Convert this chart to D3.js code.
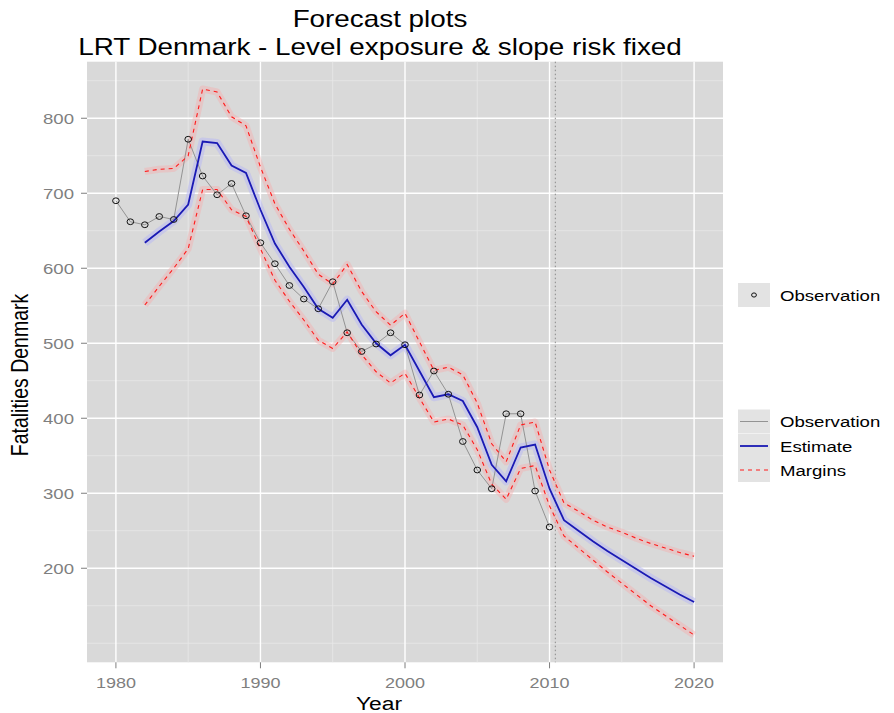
<!DOCTYPE html>
<html><head><meta charset="utf-8">
<script src="https://cdn.jsdelivr.net/npm/d3@7"></script>
<style>body{margin:0;background:#fff} svg{display:block}</style>
</head><body><svg id="c" width="894" height="713"></svg>
<script>
// ---------------- data ----------------
const obsYears = [1980,1981,1982,1983,1984,1985,1986,1987,1988,1989,1990,1991,1992,1993,1994,1995,1996,1997,1998,1999,2000,2001,2002,2003,2004,2005,2006,2007,2008,2009,2010];
const obsValues = [690,662,658,669,665,772,723,698,713,670,634,606,577,559,546,582,514,489,499,514,498,431,463,432,369,331,306,406,406,303,255];
const estYears = [1982,1983,1984,1985,1986,1987,1988,1989,1990,1991,1992,1993,1994,1995,1996,1997,1998,1999,2000,2001,2002,2003,2004,2005,2006,2007,2008,2009,2010,2011,2012,2013,2014,2015,2016,2017,2018,2019,2020];
const estValues = [634,649,663,685,769,767,737,727,678,633,602,575,546,534,558,525,500,484,498,463,428,432,423,388,338,316,361,365,306,264,250,236,223,211,199,187,176,165,155];
const upperValues = [729,732,733,750,839,835,802,790,735,686,652,623,592,579,605,569,542,524,540,502,464,468,458,420,366,342,391,395,331,287,276,264,255,248,240,233,227,221,216];
const lowerValues = [551,576,600,626,705,705,678,669,626,584,556,531,504,493,515,485,462,447,460,427,395,399,391,358,312,292,333,337,283,243,227,211,195,180,165,150,137,124,111];
const forecastStart = 2010.4;
const xTicks = [1980,1990,2000,2010,2020];
const xMinor = [1985,1995,2005,2015];
const yTicks = [200,300,400,500,600,700,800];
const yMinor = [100,150,250,350,450,550,650,750,850];
const titleLines = ["Forecast plots","LRT Denmark - Level exposure & slope risk fixed"];
const xTitle = "Year", yTitle = "Fatalities Denmark";
const legend1 = ["Observation"];
const legend2 = ["Observation","Estimate","Margins"];

// ---------------- layout ----------------
const svg = d3.select("#c");
const P = {l:87, r:723, t:61.7, b:662.3};
const SX = 1.2; // horizontal stretch seen in the reference text
const FONT = "'Liberation Sans', Arial, Helvetica, sans-serif";

const allY = upperValues.concat(lowerValues, obsValues);
const yMin = d3.min(allY), yMax = d3.max(allY), yr = yMax - yMin;
const x = d3.scaleLinear().domain([1978, 2022]).range([P.l, P.r]);
const y = d3.scaleLinear().domain([yMin - 0.05*yr, yMax + 0.05*yr]).range([P.b, P.t]);

function stext(g, tx, ty, str, opts) {
  return g.append("text")
    .attr("transform", `translate(${tx},${ty}) scale(${SX},1)` + (opts.rot ? ` rotate(${opts.rot})` : ""))
    .attr("font-family", FONT).attr("font-size", opts.size)
    .attr("fill", opts.fill || "#000")
    .attr("text-anchor", opts.anchor || "start")
    .text(str);
}

svg.append("rect").attr("width",894).attr("height",713).attr("fill","#fff");
svg.append("rect").attr("x",P.l).attr("y",P.t).attr("width",P.r-P.l).attr("height",P.b-P.t).attr("fill","#d9d9d9");

const grid = svg.append("g");
grid.selectAll(".xm").data(xMinor).join("line").attr("x1",d=>x(d)).attr("x2",d=>x(d)).attr("y1",P.t).attr("y2",P.b).attr("stroke","#e9e9e9").attr("stroke-width",0.8);
grid.selectAll(".ym").data(yMinor.filter(v=>y(v)>P.t && y(v)<P.b)).join("line").attr("class","ym").attr("x1",P.l).attr("x2",P.r).attr("y1",d=>y(d)).attr("y2",d=>y(d)).attr("stroke","#e9e9e9").attr("stroke-width",0.8);
grid.selectAll(".xM").data(xTicks).join("line").attr("class","xM").attr("x1",d=>x(d)).attr("x2",d=>x(d)).attr("y1",P.t).attr("y2",P.b).attr("stroke","#fff").attr("stroke-width",1.4);
grid.selectAll(".yM").data(yTicks).join("line").attr("class","yM").attr("x1",P.l).attr("x2",P.r).attr("y1",d=>y(d)).attr("y2",d=>y(d)).attr("stroke","#fff").attr("stroke-width",1.4);

// forecast start line
svg.append("line").attr("x1",x(forecastStart)).attr("x2",x(forecastStart)).attr("y1",P.t).attr("y2",P.b)
  .attr("stroke","#8a8a8a").attr("stroke-width",1).attr("stroke-dasharray","1.5,2.5");

const line = d3.line().x(d=>x(d[0])).y(d=>y(d[1]));
const estPts = estYears.map((yy,i)=>[yy,estValues[i]]);
const upPts = estYears.map((yy,i)=>[yy,upperValues[i]]);
const loPts = estYears.map((yy,i)=>[yy,lowerValues[i]]);
const obsPts = obsYears.map((yy,i)=>[yy,obsValues[i]]);

// soft colour halos (as in the reference)
[upPts, loPts].forEach(p => svg.append("path").attr("d",line(p)).attr("fill","none").attr("stroke","#f3b0b0").attr("stroke-opacity",0.45).attr("stroke-width",7).attr("stroke-linejoin","round"));
svg.append("path").attr("d",line(estPts)).attr("fill","none").attr("stroke","#b9b9f2").attr("stroke-opacity",0.55).attr("stroke-width",8).attr("stroke-linejoin","round");

// observation line
svg.append("path").attr("d",line(obsPts)).attr("fill","none").attr("stroke","#939393").attr("stroke-width",1);
// estimate
svg.append("path").attr("d",line(estPts)).attr("fill","none").attr("stroke","#1a1ab4").attr("stroke-width",1.8);
// margins
[upPts, loPts].forEach(p => svg.append("path").attr("d",line(p)).attr("fill","none").attr("stroke","#ff1a1a").attr("stroke-width",1.1).attr("stroke-dasharray","4,4"));
// observation points
svg.selectAll(".pt").data(obsPts).join("ellipse").attr("class","pt")
  .attr("cx",d=>x(d[0])).attr("cy",d=>y(d[1])).attr("rx",3.3).attr("ry",2.9)
  .attr("fill","none").attr("stroke","#111").attr("stroke-width",1);

// axes
const axG = svg.append("g");
axG.selectAll(".xt").data(xTicks).join("line").attr("class","xt").attr("x1",d=>x(d)).attr("x2",d=>x(d)).attr("y1",P.b).attr("y2",P.b+6).attr("stroke","#7f7f7f").attr("stroke-width",1);
axG.selectAll(".yt").data(yTicks).join("line").attr("class","yt").attr("x1",P.l-6).attr("x2",P.l).attr("y1",d=>y(d)).attr("y2",d=>y(d)).attr("stroke","#7f7f7f").attr("stroke-width",1);
xTicks.forEach(v => stext(axG, x(v), 688, String(v), {size:15, fill:"#7f7f7f", anchor:"middle"}));
yTicks.forEach(v => stext(axG, 74, y(v)+5.5, String(v), {size:15.5, fill:"#7f7f7f", anchor:"end"}));

// titles
stext(svg, 379, 710, xTitle, {size:19, anchor:"middle"});
stext(svg, 28, 375, yTitle, {size:19.5, anchor:"middle", rot:-90});
stext(svg, 380, 27, titleLines[0], {size:23.2, anchor:"middle"});
stext(svg, 380, 55, titleLines[1], {size:23.2, anchor:"middle"});

// legends
const lg = svg.append("g");
lg.append("rect").attr("x",738).attr("y",283).attr("width",32).attr("height",24).attr("fill","#e3e3e3");
lg.append("ellipse").attr("cx",754).attr("cy",295).attr("rx",2.4).attr("ry",2.1).attr("fill","none").attr("stroke","#111").attr("stroke-width",1);
stext(lg, 780, 300.5, legend1[0], {size:15.5});

const keyY = [421.5, 446, 470];
const keyStyles = [{c:"#939393",w:1,d:null},{c:"#1a1ab4",w:1.8,d:null},{c:"#ff1a1a",w:1.1,d:"4,4"}];
legend2.forEach((lab,i) => {
  lg.append("rect").attr("x",738).attr("y",keyY[i]-12).attr("width",32).attr("height",24).attr("fill","#e3e3e3");
  const s = keyStyles[i];
  const l = lg.append("line").attr("x1",740).attr("x2",768).attr("y1",keyY[i]).attr("y2",keyY[i]).attr("stroke",s.c).attr("stroke-width",s.w);
  if (s.d) l.attr("stroke-dasharray",s.d);
  stext(lg, 780, keyY[i]+5.5, lab, {size:15.5});
});
</script></body></html>
